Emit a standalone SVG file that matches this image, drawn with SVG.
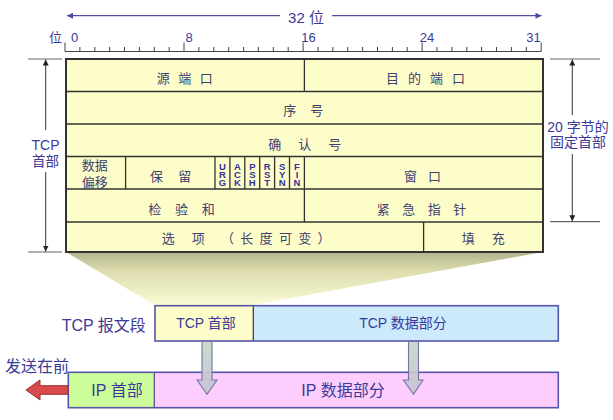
<svg xmlns="http://www.w3.org/2000/svg" width="613" height="420" viewBox="0 0 613 420">
<defs>
<style>
text{font-family:'Liberation Sans','Noto Sans CJK SC',sans-serif;}
.lbl{fill:#3a3a98;}
.cell{fill:#404070;font-size:13px;}
.flag{fill:#333399;font-size:9.5px;font-weight:bold;text-anchor:middle;}
.grid{stroke:#333;stroke-width:1.3;fill:none;}
.dim{stroke:#333;stroke-width:1;fill:none;}
.ext{stroke:#666;stroke-width:1.2;fill:none;}
.blue{stroke:#5555aa;stroke-width:1.6;}
</style>
<marker id="ah" viewBox="0 0 10 10" refX="10" refY="5" markerWidth="6" markerHeight="6" orient="auto-start-reverse" markerUnits="userSpaceOnUse"><path d="M0 0 L10 5 L0 10 Z" fill="#222"/></marker>
<marker id="ahb" viewBox="0 0 10 10" refX="10" refY="5" markerWidth="8" markerHeight="6" orient="auto-start-reverse" markerUnits="userSpaceOnUse"><path d="M0 0 L10 5 L0 10 Z" fill="#4a4aa0"/></marker>
<linearGradient id="shade" x1="0" y1="0" x2="0" y2="1">
<stop offset="0" stop-color="#b4b48e"/>
<stop offset="0.35" stop-color="#dcdcae"/>
<stop offset="1" stop-color="#fbfbd6"/>
</linearGradient>
<linearGradient id="darr" x1="0" y1="0" x2="0" y2="1">
<stop offset="0" stop-color="#c4d6c4"/>
<stop offset="1" stop-color="#c6c2d6"/>
</linearGradient>
</defs>

<!-- top span and ruler -->
<g id="span32">
<line x1="280" y1="15.7" x2="67" y2="15.7" stroke="#5050a0" stroke-width="1.2" marker-end="url(#ahb)"/>
<line x1="332" y1="15.7" x2="541.5" y2="15.7" stroke="#5050a0" stroke-width="1.2" marker-end="url(#ahb)"/>
<text class="lbl" x="306" y="23" font-size="15" text-anchor="middle">32 位</text>
</g>
<g id="ruler">
<path d="M65 51.5 H541.2" stroke="#444" stroke-width="1.2"/>
<path stroke="#444" stroke-width="1" d="M65 42.5V51.5 M184 42.5V51.5 M303.1 42.5V51.5 M422.1 42.5V51.5 M541.2 42.5V51.5 M79.9 47V51.5 M94.8 47V51.5 M109.6 47V51.5 M124.5 47V51.5 M139.4 47V51.5 M154.3 47V51.5 M169.2 47V51.5 M198.9 47V51.5 M213.8 47V51.5 M228.7 47V51.5 M243.6 47V51.5 M258.4 47V51.5 M273.3 47V51.5 M288.2 47V51.5 M318 47V51.5 M332.8 47V51.5 M347.7 47V51.5 M362.6 47V51.5 M377.5 47V51.5 M392.4 47V51.5 M407.2 47V51.5 M437 47V51.5 M451.9 47V51.5 M466.8 47V51.5 M481.6 47V51.5 M496.5 47V51.5 M511.4 47V51.5 M526.3 47V51.5"/>
<g class="lbl" font-size="13" text-anchor="middle">
<text x="55.5" y="41.5">位</text>
<text x="74.5" y="41.5">0</text>
<text x="189" y="41.5">8</text>
<text x="308.5" y="41.5">16</text>
<text x="427" y="41.5">24</text>
<text x="533.4" y="41.5">31</text>
</g>
</g>

<!-- projection shade -->
<polygon id="projection" points="66,252 543,252 250,305.5 155,305.5" fill="url(#shade)"/>

<!-- TCP header table -->
<g id="tcp-header">
<rect x="66" y="59" width="477" height="193" fill="#fdfdc9"/>
<path class="grid" d="M66 91.5H543 M66 124H543 M66 156.5H543 M66 189H543 M66 222H543 M304.4 59V91.5 M304.4 189V222 M125.6 156.5V189 M215 156.5V189 M229.9 156.5V189 M244.8 156.5V189 M259.7 156.5V189 M274.6 156.5V189 M289.5 156.5V189 M304.4 156.5V189 M423.6 222V252"/>
<rect x="66" y="59" width="477" height="193" fill="none" stroke="#333" stroke-width="2"/>
</g>
<g id="f-src"><text class="cell" x="156.7" y="82.5" letter-spacing="8.5">源端口</text></g>
<g id="f-dst"><text class="cell" x="386" y="82.5" letter-spacing="9">目的端口</text></g>
<g id="f-seq"><text class="cell" x="283.3" y="114.5" letter-spacing="14">序号</text></g>
<g id="f-ack"><text class="cell" x="268.3" y="148.5" letter-spacing="17">确认号</text></g>
<g id="f-off"><text class="cell" x="81.7" y="170" font-size="14">数据</text><text class="cell" x="81.7" y="187" font-size="14">偏移</text></g>
<g id="f-rsv"><text class="cell" x="150" y="181" letter-spacing="15.3">保留</text></g>
<g id="f-flags">
<text class="flag" x="222.5" y="169.5">U</text><text class="flag" x="222.5" y="177.8">R</text><text class="flag" x="222.5" y="186.1">G</text>
<text class="flag" x="237.4" y="169.5">A</text><text class="flag" x="237.4" y="177.8">C</text><text class="flag" x="237.4" y="186.1">K</text>
<text class="flag" x="252.3" y="169.5">P</text><text class="flag" x="252.3" y="177.8">S</text><text class="flag" x="252.3" y="186.1">H</text>
<text class="flag" x="267.2" y="169.5">R</text><text class="flag" x="267.2" y="177.8">S</text><text class="flag" x="267.2" y="186.1">T</text>
<text class="flag" x="282.1" y="169.5">S</text><text class="flag" x="282.1" y="177.8">Y</text><text class="flag" x="282.1" y="186.1">N</text>
<text class="flag" x="297" y="169.5">F</text><text class="flag" x="297" y="177.8">I</text><text class="flag" x="297" y="186.1">N</text>
</g>
<g id="f-win"><text class="cell" x="404" y="180.5" letter-spacing="11">窗口</text></g>
<g id="f-chk"><text class="cell" x="148.3" y="213.5" letter-spacing="13.7">检验和</text></g>
<g id="f-urg"><text class="cell" x="376.7" y="213.5" letter-spacing="12.5">紧急指针</text></g>
<g id="f-opt"><text class="cell" x="161.7" y="243" letter-spacing="17">选项</text><text class="cell" x="221" y="243" letter-spacing="6.3">（长度可变）</text></g>
<g id="f-pad"><text class="cell" x="461.7" y="243" letter-spacing="17">填充</text></g>

<!-- dimension annotations -->
<g id="dim-left">
<path class="ext" d="M28 59H62 M28 252H62"/>
<line class="dim" x1="45.7" y1="130" x2="45.7" y2="59.5" marker-end="url(#ah)"/>
<line class="dim" x1="45.7" y1="172" x2="45.7" y2="251.5" marker-end="url(#ah)"/>
<text class="lbl" x="45.5" y="150" font-size="14" text-anchor="middle">TCP</text>
<text class="lbl" x="45.5" y="166" font-size="13.5" text-anchor="middle">首部</text>
</g>
<g id="dim-right">
<path class="ext" d="M550 59H600 M550 221.7H600"/>
<line class="dim" x1="572.3" y1="115" x2="572.3" y2="59.5" marker-end="url(#ah)"/>
<line class="dim" x1="572.3" y1="154" x2="572.3" y2="221.2" marker-end="url(#ah)"/>
<text class="lbl" x="578" y="131.5" font-size="14" text-anchor="middle">20 字节的</text>
<text class="lbl" x="578" y="147" font-size="14" text-anchor="middle">固定首部</text>
</g>

<!-- TCP segment -->
<g id="tcp-segment">
<text class="lbl" x="61.7" y="331" font-size="16">TCP 报文段</text>
<rect x="155" y="305.7" width="98.3" height="35.3" fill="#fdfdc9"/>
<rect x="253.3" y="305.7" width="305" height="35.3" fill="#cdeafd"/>
<line x1="253.3" y1="305.7" x2="253.3" y2="341" stroke="#333" stroke-width="1.2"/>
<rect x="155" y="305.7" width="403.3" height="35.3" fill="none" class="blue"/>
<text class="lbl" x="206" y="328" font-size="14" text-anchor="middle">TCP 首部</text>
<text class="lbl" x="403" y="328" font-size="14" text-anchor="middle">TCP 数据部分</text>
</g>

<!-- IP datagram -->
<g id="ip-datagram">
<rect x="68.3" y="372.3" width="86" height="35.4" fill="#ccfd9a"/>
<rect x="154.3" y="372.3" width="404" height="35.4" fill="#fdcdfd"/>
<line x1="154.3" y1="372.3" x2="154.3" y2="407.7" stroke="#4a4a90" stroke-width="1.2"/>
<rect x="68.3" y="372.3" width="490" height="35.4" fill="none" class="blue"/>
<text class="lbl" x="117" y="395.5" font-size="16" text-anchor="middle">IP 首部</text>
<text class="lbl" x="343" y="395.5" font-size="16" text-anchor="middle">IP 数据部分</text>
</g>

<g id="send-first">
<text class="lbl" x="5" y="372" font-size="16">发送在前</text>
<polygon points="26,390 40,380 40,385.7 68,385.7 68,394.3 40,394.3 40,400" fill="#d94b4b" stroke="#9a2f2f" stroke-width="1"/>
</g>

<!-- connectors -->
<g id="connectors">
<path d="M202 341.5 V380 H197 L207 394.3 L217 380 H212 V341.5 Z" fill="url(#darr)" stroke="#7474a8" stroke-width="1.1" fill-opacity="0.9"/>
<path d="M408.5 341.5 V380 H403.5 L413.5 394.3 L423 380 H418.5 V341.5 Z" fill="url(#darr)" stroke="#7474a8" stroke-width="1.1" fill-opacity="0.9"/>
</g>
</svg>
